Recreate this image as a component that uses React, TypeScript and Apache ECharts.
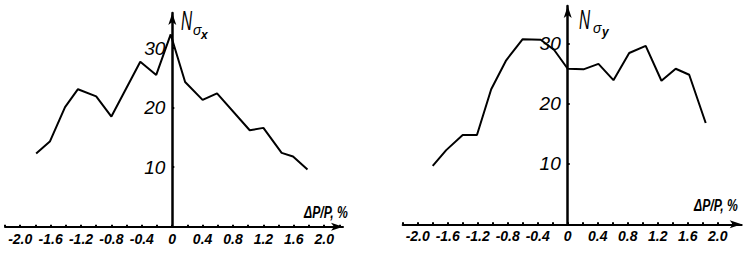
import React, { useEffect, useRef } from 'react';
import * as echarts from 'echarts';

// Left panel: N_sigma_x vs ΔP/P, %
const leftX = [-1.79, -1.61, -1.41, -1.24, -1.0, -0.8, -0.42, -0.21, -0.02, 0.17, 0.4, 0.59, 1.02, 1.2, 1.44, 1.59, 1.78];
const leftY = [12.3, 14.3, 20.1, 23.1, 21.9, 18.5, 27.7, 25.5, 32.3, 24.3, 21.3, 22.4, 16.2, 16.6, 12.4, 11.8, 9.6];
// Right panel: N_sigma_y vs ΔP/P, %
const rightX = [-1.8, -1.62, -1.4, -1.21, -1.02, -0.82, -0.6, -0.36, -0.18, 0, 0.21, 0.41, 0.61, 0.82, 1.04, 1.25, 1.44, 1.62, 1.84];
const rightY = [9.7, 12.3, 14.8, 14.8, 22.4, 27.2, 30.7, 30.6, 28.9, 25.8, 25.7, 26.6, 23.9, 28.4, 29.6, 23.8, 25.8, 24.8, 16.8];

const xTickLabels = ['-2.0', '-1.6', '-1.2', '-0.8', '-0.4', '0', '0.4', '0.8', '1.2', '1.6', '2.0'];
const yTickLabels = ['10', '20', '30'];
const xName = 'ΔP/P, %';

const FONT = '"Liberation Sans", Arial, sans-serif';

const xFmt = (v: number) => {
  const r = Math.round(v * 10) / 10;
  const hit = xTickLabels.find((s) => Math.abs(parseFloat(s) - r) < 1e-6);
  return hit !== undefined ? hit : '';
};
const yFmt = (v: number) => {
  const hit = yTickLabels.find((s) => Math.abs(parseFloat(s) - v) < 1e-6);
  return hit !== undefined ? hit : '';
};

const mkX = (gridIndex: number, max: number) => ({
  type: 'value',
  gridIndex,
  min: -2.2,
  max,
  interval: 0.2,
  splitLine: { show: false },
  axisLine: {
    show: true,
    onZero: false,
    symbol: ['none', 'arrow'],
    symbolSize: [6, 12],
    lineStyle: { color: '#000', width: 2 },
  },
  axisTick: { show: true, inside: true, length: 2, lineStyle: { color: '#000', width: 2 } },
  axisLabel: {
    show: true,
    showMinLabel: true,
    showMaxLabel: false,
    hideOverlap: false,
    formatter: xFmt,
    margin: 5,
    color: '#000',
    fontFamily: FONT,
    fontStyle: 'italic',
    fontWeight: 'bold',
    fontSize: 14,
  },
});

const mkY = (gridIndex: number, max: number, offset: number) => ({
  type: 'value',
  gridIndex,
  position: 'left',
  offset,
  min: 0,
  max,
  interval: 10,
  splitLine: { show: false },
  axisLine: {
    show: true,
    onZero: false,
    symbol: ['none', 'arrow'],
    symbolSize: [6, 12],
    lineStyle: { color: '#000', width: 2.5 },
  },
  axisTick: { show: true, inside: true, length: 2, lineStyle: { color: '#000', width: 2 } },
  axisLabel: {
    show: true,
    showMinLabel: false,
    showMaxLabel: false,
    formatter: yFmt,
    margin: 7,
    color: '#000',
    fontFamily: FONT,
    fontStyle: 'italic',
    fontSize: 19,
  },
});

const txt = (text: string, x: number, y: number, size: number, scaleX: number, weight = 'normal') => ({
  type: 'text',
  x,
  y,
  scaleX,
  style: {
    text,
    fill: '#000',
    font: `italic ${weight} ${size}px ${FONT}`,
  },
});

export default function App() {
  const ref = useRef<HTMLDivElement>(null);
  useEffect(() => {
    if (!ref.current) return;
    const chart = echarts.init(ref.current, undefined, { renderer: 'svg' });
    chart.setOption({
      animation: false,
      backgroundColor: '#fff',
      grid: [
        { left: 5, top: 13, width: 338, height: 213.7, outerBoundsMode: 'none', containLabel: false },
        { left: 402.7, top: 6, width: 339, height: 218.3, outerBoundsMode: 'none', containLabel: false },
      ],
      xAxis: [mkX(0, -2.2 + 338 / 76), mkX(1, -2.2 + 339 / 75)],
      yAxis: [mkY(0, 35.9, -(172.3 - 5)), mkY(1, 36.2, -(567.7 - 402.7))],
      series: [
        {
          type: 'line',
          xAxisIndex: 0,
          yAxisIndex: 0,
          data: leftX.map((x, i) => [x, leftY[i]]),
          showSymbol: false,
          symbol: 'none',
          lineStyle: { color: '#000', width: 2 },
        },
        {
          type: 'line',
          xAxisIndex: 1,
          yAxisIndex: 1,
          data: rightX.map((x, i) => [x, rightY[i]]),
          showSymbol: false,
          symbol: 'none',
          lineStyle: { color: '#000', width: 2 },
        },
      ],
      graphic: [
        txt(xName, 304, 204, 16, 0.76, 'bold'),
        txt(xName, 694, 197, 16, 0.76, 'bold'),
        txt('N', 181, 7, 28, 0.55),
        txt('σ', 193, 23, 14, 1),
        txt('x', 201, 29, 12, 1, 'bold'),
        txt('N', 579, 6, 28, 0.55),
        txt('σ', 593, 21, 14, 1),
        txt('y', 602, 26, 12, 1, 'bold'),
      ],
    });
    return () => chart.dispose();
  }, []);
  return (
    <div
      ref={ref}
      style={{ position: 'fixed', left: 0, top: 0, width: 745, height: 257, background: '#fff' }}
    />
  );
}
